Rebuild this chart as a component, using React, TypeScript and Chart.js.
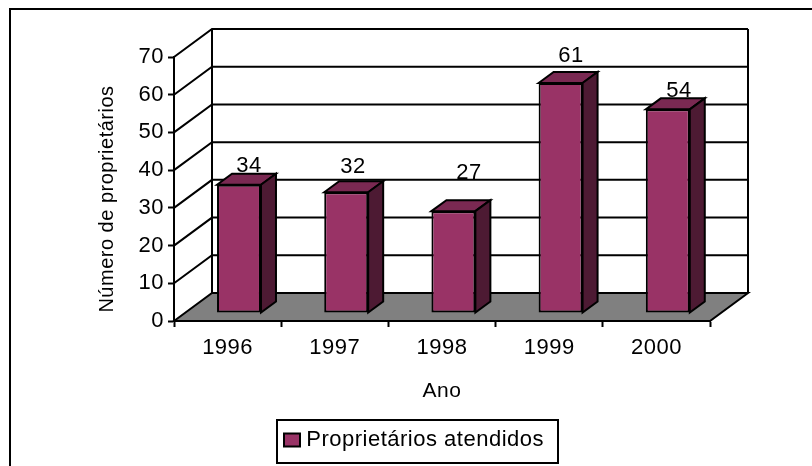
import React, { useEffect, useRef } from "react";
import { Chart, registerables } from "chart.js";

Chart.register(...registerables);

const years = ["1996", "1997", "1998", "1999", "2000"];
const attended = [34, 32, 27, 61, 54];
const seriesName = "Proprietários atendidos";
const yTitle = "Número de proprietários";
const xTitle = "Ano";
const yTickStep = 10;
const yMax = 70;

// Where the source placed each value label, relative to the front plane of the axes.
const labelShiftX = [21.4, 18.2, 27, 21.8, 22.6];
const labelLift = [21, 27, 40, 29, 20];

const FONT = "'Liberation Sans', Arial, sans-serif";
const WALL_DX = 38;
const WALL_DY = -28;
const BAR_DX = 11.4;
const BAR_DY = -8;
const DEPTH_DX = 15;
const DEPTH_DY = -11;

function poly(ctx: CanvasRenderingContext2D, pts: number[][], fill?: string) {
  ctx.beginPath();
  pts.forEach((p, i) => (i ? ctx.lineTo(p[0], p[1]) : ctx.moveTo(p[0], p[1])));
  ctx.closePath();
  if (fill) {
    ctx.fillStyle = fill;
    ctx.fill();
  }
  ctx.stroke();
}

const excel3D = {
  id: "excel3D",
  afterLayout(chart: any) {
    const lg = chart.legend;
    lg.left = 276;
    lg.top = 421;
    lg.right = 544;
    lg.bottom = 480;
    const s = chart.scales.y;
    if (!s.__wrapped) {
      s.__wrapped = true;
      const orig = s.drawTitle;
      s.drawTitle = function (...a: any[]) {
        const c = this.ctx;
        c.save();
        c.translate(0, 10);
        orig.apply(this, a);
        c.restore();
      };
    }
  },
  beforeDraw(chart: any) {
    const ctx = chart.ctx;
    ctx.letterSpacing = "0.5px";
    ctx.save();
    ctx.strokeStyle = "#000";
    ctx.lineWidth = 2;
    ctx.beginPath();
    ctx.moveTo(10, 466);
    ctx.lineTo(10, 9);
    ctx.lineTo(812, 9);
    ctx.stroke();
    ctx.beginPath();
    ctx.rect(277, 420, 281, 43);
    ctx.stroke();
    ctx.restore();
  },
  beforeDatasetsDraw(chart: any) {
    const ctx = chart.ctx;
    const { left, right, top, bottom } = chart.chartArea;
    const y = chart.scales.y;
    ctx.save();
    ctx.strokeStyle = "#000";
    ctx.lineWidth = 2;
    ctx.lineJoin = "miter";
    poly(ctx, [
      [left, bottom],
      [left + WALL_DX, bottom + WALL_DY],
      [right + WALL_DX, bottom + WALL_DY],
      [right, bottom],
    ], "#808080");
    for (const t of y.ticks) {
      const py = y.getPixelForValue(t.value);
      if (t.value > 0) {
        ctx.beginPath();
        ctx.moveTo(left, py);
        ctx.lineTo(left + WALL_DX, py + WALL_DY);
        ctx.lineTo(right + WALL_DX, py + WALL_DY);
        ctx.stroke();
      }
    }
    ctx.beginPath();
    ctx.moveTo(left + WALL_DX, bottom + WALL_DY);
    ctx.lineTo(left + WALL_DX, top + WALL_DY);
    ctx.moveTo(right + WALL_DX, bottom + WALL_DY);
    ctx.lineTo(right + WALL_DX, top + WALL_DY);
    ctx.stroke();
    ctx.restore();
    ctx.save();
    ctx.translate(BAR_DX, BAR_DY);
  },
  afterDatasetsDraw(chart: any) {
    const ctx = chart.ctx;
    const bars = chart.getDatasetMeta(0).data;
    ctx.strokeStyle = "#000";
    ctx.lineWidth = 2;
    ctx.lineJoin = "miter";
    bars.forEach((b: any) => {
      const l = b.x - b.width / 2;
      const r = b.x + b.width / 2;
      poly(ctx, [
        [l, b.y],
        [l + DEPTH_DX, b.y + DEPTH_DY],
        [r + DEPTH_DX, b.y + DEPTH_DY],
        [r, b.y],
      ], "#7a2952");
      poly(ctx, [
        [r, b.y],
        [r + DEPTH_DX, b.y + DEPTH_DY],
        [r + DEPTH_DX, b.base + DEPTH_DY],
        [r, b.base],
      ], "#4d1a33");
    });
    ctx.restore();
    ctx.save();
    ctx.fillStyle = "#000";
    ctx.font = `22px ${FONT}`;
    ctx.textAlign = "center";
    ctx.textBaseline = "alphabetic";
    const xs = chart.scales.x;
    const ys = chart.scales.y;
    attended.forEach((v, i) => {
      ctx.fillText(
        String(v),
        xs.getPixelForValue(i) + labelShiftX[i],
        ys.getPixelForValue(v) - labelLift[i]
      );
    });
    ctx.restore();
  },
};

export default function App() {
  const ref = useRef<HTMLCanvasElement>(null);
  useEffect(() => {
    const chart = new Chart(ref.current as HTMLCanvasElement, {
      type: "bar",
      data: {
        labels: years,
        datasets: [
          {
            label: seriesName,
            data: attended,
            backgroundColor: "#993366",
            borderColor: "#000",
            borderWidth: 2,
            borderSkipped: false,
            barPercentage: 0.41,
            categoryPercentage: 1,
            clip: false,
          },
        ],
      },
      options: {
        responsive: false,
        animation: false,
        devicePixelRatio: 1,
        layout: { padding: { left: 95.5, right: 102, top: 57, bottom: 62 } },
        plugins: {
          title: { display: false },
          tooltip: { enabled: false },
          legend: {
            position: "chartArea",
            align: "start",
            labels: {
              boxWidth: 16,
              boxHeight: 13,
              padding: 8,
              color: "#000",
              textAlign: "right",
              font: { family: FONT, size: 22 },
            },
          },
        },
        scales: {
          x: {
            afterFit: (s: any) => {
              s.height = 83;
            },
            grid: {
              drawOnChartArea: false,
              drawTicks: true,
              tickLength: 6,
              tickWidth: 2,
              tickColor: "#000",
            },
            border: { display: true, color: "#000", width: 2 },
            ticks: {
              color: "#000",
              font: { family: FONT, size: 22 },
              padding: 8,
              maxRotation: 0,
              minRotation: 0,
              autoSkip: false,
            },
            title: {
              display: true,
              text: xTitle,
              color: "#000",
              font: { family: FONT, size: 21, lineHeight: 1.2 },
              padding: 0,
            },
          },
          y: {
            min: 0,
            max: yMax,
            afterFit: (s: any) => {
              s.width = 78.5;
            },
            grid: {
              drawOnChartArea: false,
              drawTicks: true,
              tickLength: 6,
              tickWidth: 2,
              tickColor: "#000",
            },
            border: { display: true, color: "#000", width: 2 },
            ticks: {
              stepSize: yTickStep,
              color: "#000",
              font: { family: FONT, size: 22 },
              padding: 4,
            },
            title: {
              display: true,
              text: yTitle,
              color: "#000",
              font: { family: FONT, size: 20, lineHeight: 1.2 },
              padding: 0,
            },
          },
        },
      },
      plugins: [excel3D],
    } as any);
    return () => chart.destroy();
  }, []);
  return (
    <div style={{ position: "fixed", left: 0, top: 0, width: 812, height: 466, background: "#fff" }}>
      <canvas ref={ref} width={812} height={466} style={{ display: "block" }} />
    </div>
  );
}
